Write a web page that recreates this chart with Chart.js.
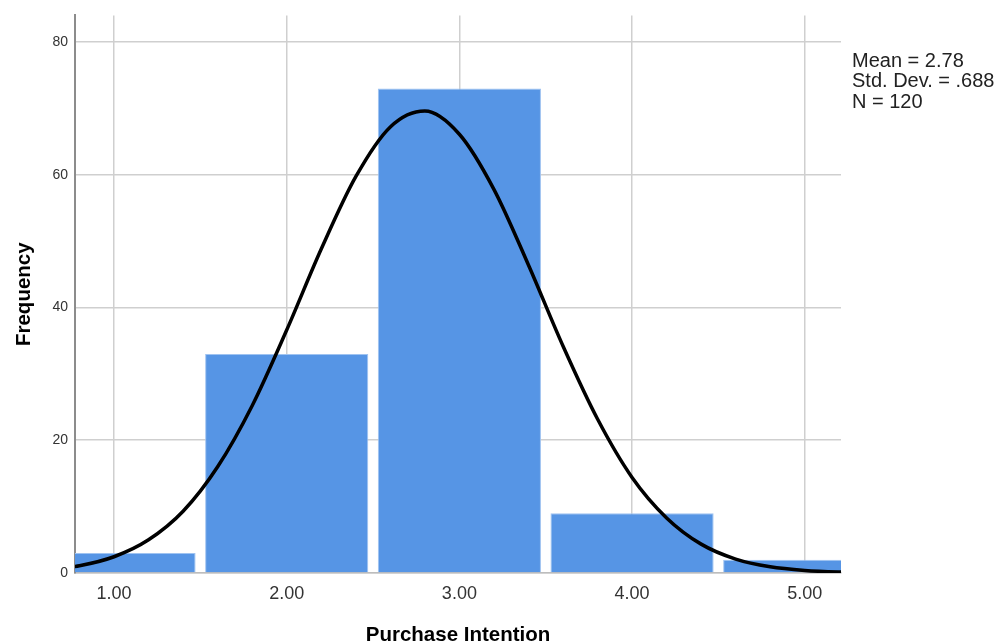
<!DOCTYPE html>
<html>
<head>
<meta charset="utf-8">
<script src="https://cdn.jsdelivr.net/npm/chart.js@4"></script>
<style>
  html, body { margin: 0; padding: 0; background: #fff; }
  #wrap { width: 1006px; height: 643px; }
</style>
</head>
<body>
<div id="wrap"><canvas id="histChart" width="1006" height="643"></canvas></div>
<script>
// histogram bins (centre of each bin) and counts
const binCenters = [1, 2, 3, 4, 5];
const binCounts = [3, 33, 73, 9, 2];

// normal curve
const curveX = [0.6, 0.8, 1.0, 1.2, 1.4, 1.6, 1.8, 2.0, 2.2, 2.4, 2.6, 2.8, 3.0, 3.2, 3.4, 3.6, 3.8, 4.0, 4.2, 4.4, 4.6, 4.8, 5.0, 5.2, 5.4];
const curveY = [0.46, 1.1, 2.45, 5.0, 9.3, 16.0, 25.2, 36.6, 48.8, 59.7, 67.2, 69.6, 66.1, 57.8, 46.4, 34.2, 23.2, 14.4, 8.3, 4.35, 2.1, 0.93, 0.38, 0.14, 0.05];

const xTicks = [1, 2, 3, 4, 5];
const yTicks = [0, 20, 40, 60, 80];
const statsLines = ['Mean = 2.78', 'Std. Dev. = .688', 'N = 120'];
const xTitle = 'Purchase Intention';
const yTitle = 'Frequency';

const FONT = '"Liberation Sans", Arial, sans-serif';

// titles + stats box drawn by hand, SPSS style
const labelsPlugin = {
    id: 'spssLabels',
    afterDraw(chart) {
        const ctx = chart.ctx;
        const area = chart.chartArea;
        ctx.save();
        ctx.fillStyle = '#000';
        ctx.font = 'bold 20.5px ' + FONT;
        ctx.textAlign = 'center';
        ctx.textBaseline = 'alphabetic';
        ctx.fillText(xTitle, (area.left + area.right) / 2, 641);

        ctx.translate(30, (area.top + area.bottom) / 2);
        ctx.rotate(-Math.PI / 2);
        ctx.fillText(yTitle, 0, 0);
        ctx.restore();

        ctx.save();
        ctx.fillStyle = '#222';
        ctx.font = '20px ' + FONT;
        ctx.textAlign = 'left';
        ctx.textBaseline = 'middle';
        statsLines.forEach((line, i) => {
            ctx.fillText(line, area.right + 11, 61 + i * 20.5);
        });
        ctx.restore();
    }
};

const ctx = document.getElementById('histChart').getContext('2d');
new Chart(ctx, {
    data: {
        datasets: [
            {
                type: 'line',
                data: curveX.map((x, i) => ({ x: x, y: curveY[i] })),
                borderColor: '#000',
                borderWidth: 3.5,
                pointRadius: 0,
                cubicInterpolationMode: 'monotone',
                fill: false,
                order: 0
            },
            {
                type: 'bar',
                data: binCenters.map((x, i) => ({ x: x, y: binCounts[i] })),
                backgroundColor: '#5695e5',
                borderColor: '#9fc3f1',
                borderWidth: 1,
                barPercentage: 0.945,
                categoryPercentage: 1,
                order: 1
            }
        ]
    },
    plugins: [labelsPlugin],
    options: {
        responsive: false,
        animation: false,
        layout: { padding: { top: 13, right: 165, left: 0, bottom: 0 } },
        plugins: {
            legend: { display: false },
            tooltip: { enabled: false }
        },
        scales: {
            x: {
                type: 'linear',
                min: 0.774,
                max: 5.21,
                offset: false,
                afterBuildTicks: (axis) => { axis.ticks = xTicks.map(v => ({ value: v })); },
                afterFit: (axis) => { axis.height = 70; },
                grid: { color: '#cfcfcf', lineWidth: 1.5, drawTicks: false, offset: false },
                border: { color: '#bdbdbd', width: 1.5 },
                ticks: {
                    padding: 10,
                    color: '#333',
                    font: { family: FONT, size: 18 },
                    callback: (v) => Number(v).toFixed(2)
                }
            },
            y: {
                min: 0,
                max: 84,
                afterBuildTicks: (axis) => { axis.ticks = yTicks.map(v => ({ value: v })); },
                afterFit: (axis) => { axis.width = 75; },
                grid: { color: '#cfcfcf', lineWidth: 1.5, drawTicks: false },
                border: { color: '#8c8c8c', width: 2 },
                ticks: {
                    padding: 7,
                    color: '#333',
                    font: { family: FONT, size: 14 }
                }
            }
        }
    }
});
</script>
</body>
</html>
